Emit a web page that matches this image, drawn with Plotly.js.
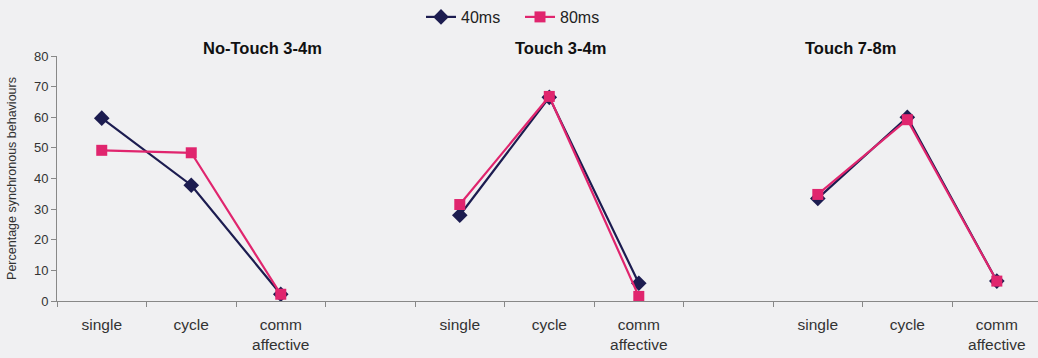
<!DOCTYPE html>
<html><head><meta charset="utf-8">
<script src="https://cdn.plot.ly/plotly-3.0.1.min.js"></script>
<style>html,body{margin:0;padding:0;background:#f0f0f2;}</style>
</head><body>
<div id="chart" style="width:1038px;height:358px;"></div>
<script>
const categories = ["single","cycle","comm<br>affective","","single","cycle","comm<br>affective","","single","cycle","comm<br>affective"];
const positions = [0,1,2,4,5,6,8,9,10];
const series40 = [59.7, 37.8, 2.2, 28.0, 66.5, 5.8, 33.5, 60.0, 6.5];
const series80 = [49.2, 48.4, 2.2, 31.5, 66.8, 1.5, 34.8, 59.2, 6.5];
const groupTitles = ["No-Touch 3-4m","Touch 3-4m","Touch 7-8m"];
const seriesNames = ["40ms","80ms"];

function split(arr){ return [arr.slice(0,3), arr.slice(3,6), arr.slice(6,9)]; }
const xs = split(positions);
const traces = [];
const y40 = split(series40), y80 = split(series80);
const styles = [
  {name: seriesNames[0], color:'#1c1c50', symbol:'diamond', size:12, data:y40},
  {name: seriesNames[1], color:'#e0256e', symbol:'square', size:11, data:y80}
];
styles.forEach((s)=>{
  for(let g=0; g<3; g++){
    traces.push({
      x: xs[g], y: s.data[g], type:'scatter', mode:'lines+markers',
      name: s.name, legendgroup: s.name, showlegend: g===0,
      line:{color:s.color, width:2.2},
      marker:{color:s.color, symbol:s.symbol, size:s.size}
    });
  }
});

const tickCenters = categories.map((c,i)=>i);
const boundaries = [];
for(let i=0;i<=11;i++) boundaries.push(i-0.5);

const titleX = [1.8, 5.13, 8.37];
const annotations = groupTitles.map((t,i)=>({
  text:t, x:titleX[i], xref:'x', y:1 + (55-47)/246, yref:'paper', yanchor:'middle', xanchor:'center', showarrow:false,
  font:{family:'Arial, Liberation Sans, sans-serif', size:16.5, color:'#111', weight:'bold'}
}));

const layout = {
  width:1038, height:358,
  margin:{l:57, r:0, t:55, b:57},
  paper_bgcolor:'#f0f0f2', plot_bgcolor:'#f0f0f2',
  font:{family:'Arial, Liberation Sans, sans-serif', color:'#222'},
  showlegend:true,
  legend:{orientation:'h', x:(421-57)/981, xanchor:'left', y:1 + (55-16)/246, yanchor:'middle',
    font:{size:16, color:'#222'}, bgcolor:'rgba(0,0,0,0)', tracegroupgap:0,
    entrywidth:54, entrywidthmode:'pixels'},
  xaxis:{range:[-0.5, 10.46], tickmode:'array', tickvals:tickCenters, ticktext:categories,
    ticks:'', showgrid:false, zeroline:false, showline:true, linecolor:'#888', linewidth:1,
    tickfont:{size:15.5, color:'#333'}, ticklabelstandoff:9,
    minor:{tickmode:'array', tickvals:boundaries, ticks:'outside', ticklen:5, tickcolor:'#888', showgrid:false}},
  yaxis:{range:[0,80], dtick:10, ticks:'outside', ticklen:5, tickcolor:'#888', showgrid:false, zeroline:false,
    showline:true, linecolor:'#888', linewidth:1, tickfont:{size:13, color:'#333'},
    title:{text:'Percentage synchronous behaviours', font:{size:12.5, color:'#333'}, standoff:14}},
  annotations: annotations
};
Plotly.newPlot('chart', traces, layout, {displayModeBar:false, staticPlot:true});
</script>
</body></html>
